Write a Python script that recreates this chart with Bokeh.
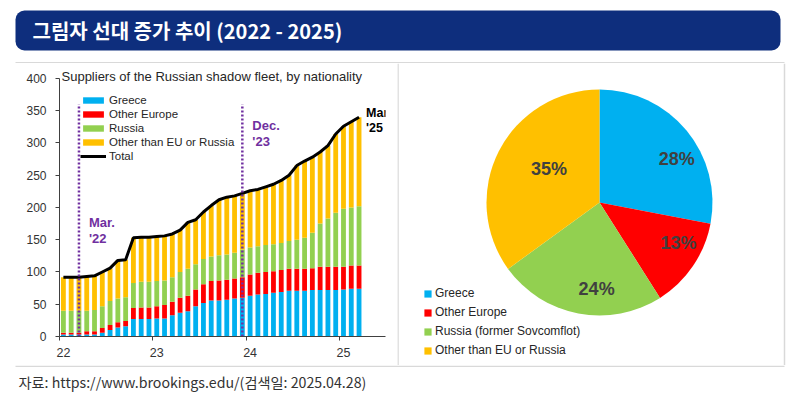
import numpy as np
from bokeh.plotting import figure
from bokeh.models import (Range1d, FixedTicker, Legend, LegendItem, Label,
                          ColumnDataSource, Span)
from bokeh.layouts import column, row
from bokeh.embed import file_html
from bokeh.resources import INLINE
from bokeh.core.properties import value

# ---------------- data ----------------
# monthly, Jan 2022 .. Mar 2025 (39 months)
months = list(range(39))
greece = [3, 3, 3, 3, 3, 6, 10, 14, 16, 27, 27, 27, 28, 28, 33, 37, 39, 47, 52, 56,
          56, 57, 59, 60, 63, 65, 66, 68, 69, 71, 71, 71, 72, 72, 72, 72, 73, 74, 74]
other_europe = [3, 3, 3, 5, 5, 7, 8, 8, 8, 17, 18, 18, 19, 21, 21, 23, 24, 26, 29, 30,
                31, 31, 31, 32, 33, 34, 34, 33, 34, 34, 34, 34, 34, 36, 36, 36, 35, 36, 36]
russia = [34, 34, 34, 32, 33, 34, 37, 37, 37, 39, 40, 40, 39, 38, 38, 40, 42, 39, 39, 38,
          39, 39, 40, 43, 42, 41, 42, 42, 42, 43, 45, 48, 55, 67, 75, 84, 90, 90, 92]
other_non_eu = [52, 52, 52, 53, 53, 53, 51, 59, 58, 70, 69, 69, 69, 69, 67, 65, 72, 69, 73, 79,
                86, 89, 88, 87, 88, 88, 90, 93, 97, 102, 115, 119, 117, 111, 113, 122, 128, 133, 138]
series_names = ["Greece", "Other Europe", "Russia", "Other than EU or Russia"]
year_tick_months = [0, 12, 24, 36]
year_labels = ["22", "23", "24", "25"]
y_ticks = [0, 50, 100, 150, 200, 250, 300, 350, 400]
event_months = [2, 23]
event_labels = ["Mar.\n'22", "Dec.\n'23"]
end_label = "Mar\n'25"
chart_title = "Suppliers of the Russian shadow fleet, by nationality"

pie_names = ["Greece", "Other Europe", "Russia (former Sovcomflot)", "Other than EU or Russia"]
pie_shares = [28, 13, 24, 35]

page_title = "그림자 선대 증가 추이 (2022 - 2025)"
source_note = "자료: https://www.brookings.edu/(검색일: 2025.04.28)"

# ---------------- styles ----------------
colors = ["#00b0f0", "#ff0000", "#92d050", "#ffc000"]
navy = "#0e2e7d"
purple = "#7030a0"
txt = "#262626"
frame_gray = "#d9d9d9"
FONT = "Liberation Sans"
KFONT = "Noto Sans CJK KR"
# small screen nudges of the pie percentage labels (px), like Excel's best-fit placement
pie_label_dx = [0, -3, 1, 13]
pie_label_dy = [-11, 7, -3, -5]


def bare(fig):
    fig.outline_line_color = None
    fig.xgrid.grid_line_color = None
    fig.ygrid.grid_line_color = None
    fig.background_fill_color = "white"
    fig.border_fill_color = "white"
    return fig


# ---------------- title strip ----------------
tf = figure(width=793, height=63, x_range=Range1d(0, 793), y_range=Range1d(0, 63),
            output_backend="svg", toolbar_location=None, min_border=0,
            x_axis_type=None, y_axis_type=None)
bare(tf)
tf.quad(left=15, right=780, bottom=13, top=53, fill_color=navy, line_color=None,
        border_radius=9)
tf.text(x=[32], y=[33], text=[page_title], text_color="white",
        text_font=value(KFONT), text_font_style="bold", text_font_size="20px",
        text_baseline="middle", text_align="left")
tf.segment(x0=[15], y0=[0.75], x1=[784], y1=[0.75], line_color=frame_gray, line_width=1.5)

# ---------------- bar chart ----------------
xs = [m + 0.5 for m in months]
total = [a + b + c + d for a, b, c, d in zip(greece, other_europe, russia, other_non_eu)]
src = ColumnDataSource(dict(x=xs, greece=greece, europe=other_europe, russia=russia,
                            other=other_non_eu, total=total))

bar = figure(width=397, height=302, x_range=Range1d(0, 41.9), y_range=Range1d(0, 415.5),
             output_backend="svg", toolbar_location=None,
             min_border_left=59, min_border_right=12, min_border_top=5,
             min_border_bottom=29)
bare(bar)
rs = bar.vbar_stack(["greece", "europe", "russia", "other"], x="x", width=0.62,
                    fill_color=colors, line_alpha=0, source=src)
tot_r = bar.line("x", "total", source=src, line_color="black", line_width=3)

ex = [m + 0.5 for m in event_months]
bar.segment(x0=ex, y0=[0] * len(ex), x1=ex, y1=[360] * len(ex), line_color=purple,
            line_width=2.5, line_dash="2 2")

label_tops = [188, 339]
for x_e, lab, top in zip(ex, event_labels, label_tops):
    bar.add_layout(Label(x=x_e, y=top, text=lab, x_offset=10, text_baseline="top",
                         text_color=purple, text_font=FONT, text_font_style="bold",
                         text_font_size="13px", text_line_height=1.05))

bar.add_layout(Label(x=xs[-1], y=total[-1], text=end_label, x_offset=7, y_offset=11,
                     text_baseline="top", text_color="black", text_font=FONT,
                     text_font_style="bold", text_font_size="12.5px",
                     text_line_height=1.05))

bar.add_layout(Label(x=0, y=400, text=chart_title, x_offset=2, y_offset=2,
                     text_baseline="middle", text_color=txt, text_font=FONT,
                     text_font_size="13px"))

items = [LegendItem(label=n, renderers=[r]) for n, r in zip(series_names, rs)]
items.append(LegendItem(label="Total", renderers=[tot_r]))
leg = Legend(items=items, location=(21, 173.5), glyph_width=26, glyph_height=8,
             label_height=14, spacing=0, padding=0, margin=0, label_standoff=3,
             border_line_color=None, background_fill_alpha=0,
             label_text_font=FONT, label_text_font_size="11.5px",
             label_text_color=txt)
bar.add_layout(leg)

for ax in (bar.xaxis[0], bar.yaxis[0]):
    ax.axis_line_color = "#404040"
    ax.axis_line_width = 1
    ax.major_label_text_font = FONT
    ax.major_label_text_color = "#333333"

bar.yaxis.ticker = FixedTicker(ticks=y_ticks)
bar.yaxis.bounds = (0, 400)
bar.yaxis.major_tick_out = 4
bar.yaxis.major_tick_in = 0
bar.yaxis.minor_tick_line_color = None
bar.yaxis.major_tick_line_color = "#404040"
bar.yaxis.major_label_standoff = 9
bar.yaxis.major_label_text_font_size = "12px"

label_pos = [m + 0.5 for m in year_tick_months]
bar.xaxis.ticker = FixedTicker(ticks=label_pos, minor_ticks=year_tick_months)
bar.xaxis.major_label_overrides = {p: l for p, l in zip(label_pos, year_labels)}
bar.xaxis.major_tick_line_color = None
bar.xaxis.major_tick_out = 4
bar.xaxis.major_tick_in = 0
bar.xaxis.minor_tick_line_color = "#404040"
bar.xaxis.minor_tick_out = 4
bar.xaxis.minor_tick_in = 0
bar.xaxis.major_label_standoff = 7
bar.xaxis.major_label_text_font_size = "12.5px"

# ---------------- pie ----------------
pie = figure(width=396, height=302, x_range=Range1d(-202, 194), y_range=Range1d(-163, 139),
             output_backend="svg", toolbar_location=None, min_border=0,
             x_axis_type=None, y_axis_type=None)
bare(pie)
frac = np.array(pie_shares, dtype=float) / sum(pie_shares)
cum = np.cumsum(frac)
start = np.pi / 2 - 2 * np.pi * (cum - frac)
end = np.pi / 2 - 2 * np.pi * cum
R = 113
psrc = ColumnDataSource(dict(start=start, end=end, color=colors, name=pie_names))
w = pie.wedge(x=0, y=0, radius=R, start_angle="start", end_angle="end",
              direction="clock", fill_color="color", line_color=None, source=psrc)
mid = (start + end) / 2
pie.text(x=0.75 * R * np.cos(mid) + 12 + np.array(pie_label_dx),
         y=0.75 * R * np.sin(mid) + np.array(pie_label_dy),
         text=[f"{s}%" for s in pie_shares], text_align="center", text_baseline="middle",
         text_font=value(FONT), text_font_style="bold", text_font_size="18px",
         text_color="#404040")
pleg = Legend(items=[LegendItem(label=n, renderers=[w], index=i) for i, n in enumerate(pie_names)],
              location=(26, 8), glyph_width=9, glyph_height=9, label_height=14,
              spacing=5, padding=0, margin=0, label_standoff=3,
              border_line_color=None, background_fill_alpha=0,
              label_text_font=FONT, label_text_font_size="12px", label_text_color=txt)
pie.add_layout(pleg)
pie.add_layout(Span(location=-201.5, dimension="height", line_color=frame_gray, line_width=1.5))
pie.add_layout(Span(location=185, dimension="height", line_color=frame_gray, line_width=1.5))

# ---------------- footer ----------------
ff = figure(width=793, height=35, x_range=Range1d(0, 793), y_range=Range1d(0, 35),
            output_backend="svg", toolbar_location=None, min_border=0,
            x_axis_type=None, y_axis_type=None)
bare(ff)
ff.segment(x0=[15], y0=[34.25], x1=[784], y1=[34.25], line_color=frame_gray, line_width=1.5)
ff.text(x=[18], y=[18.5], text=[source_note], text_color="#333333",
        text_font=value(KFONT), text_font_size="14.2px", text_baseline="middle",
        text_align="left")

layout = column(tf, row(bar, column(pie)), ff)
open("out.html", "w").write(file_html(layout, INLINE))
